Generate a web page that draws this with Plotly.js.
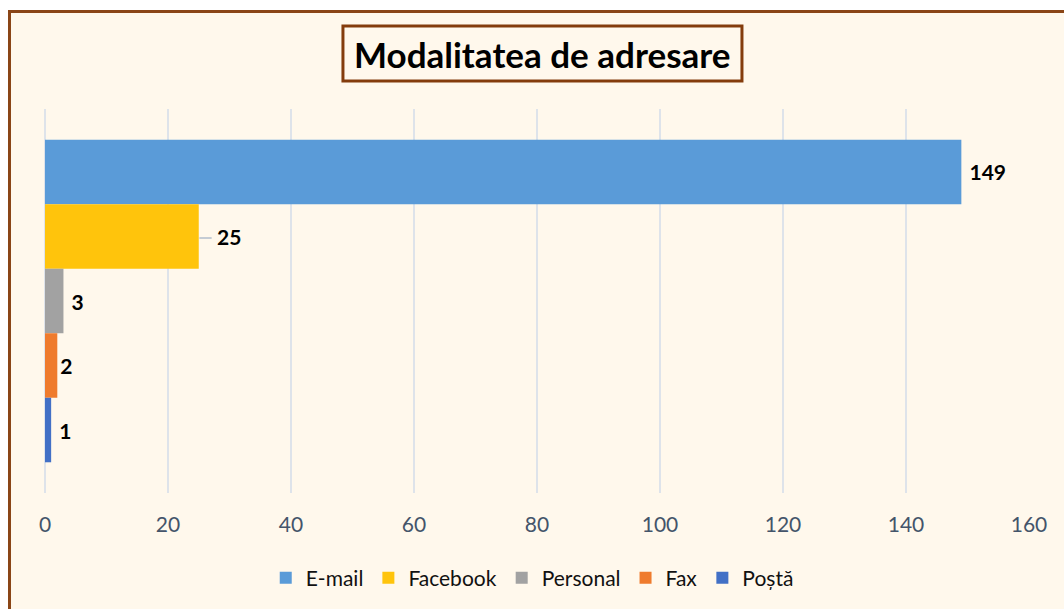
<!DOCTYPE html>
<html>
<head>
<meta charset="utf-8">
<script src="https://cdn.plot.ly/plotly-3.0.1.min.js"></script>
<style>
  html, body { margin:0; padding:0; background:#ffffff; overflow:hidden; }
  #frame { position:absolute; left:8px; top:10px; width:1060px; height:605px;
           border-left:3px solid #8A4516; border-top:3px solid #8A4516; background:#FFF8EC; }
  #chart { position:absolute; left:0; top:0; width:1053px; height:596px; }
</style>
</head>
<body>
<div id="frame"><div id="chart"></div></div>
<script>
const chartTitle = "Modalitatea de adresare";
const seriesNames = ["E-mail", "Facebook", "Personal", "Fax", "Poștă"];
const seriesValues = [149, 25, 3, 2, 1];
const seriesColors = ["#5A9BD8", "#FFC40C", "#A2A2A2", "#EF7B2D", "#4270C6"];
const category = ["Modalitate"];
const xTicks = [0, 20, 40, 60, 80, 100, 120, 140, 160];
// label padding (non-breaking spaces) per series, style only
const labelPad = [1, 3, 1, 0, 1];

const NB = "\u00A0";
const traces = seriesNames.map((name, i) => ({
  type: "bar",
  orientation: "h",
  name: name,
  y: category,
  x: [seriesValues[i]],
  text: [NB.repeat(labelPad[i]) + String(seriesValues[i])],
  textposition: "outside",
  constraintext: "none",
  textfont: { family: "Lato, 'Open Sans', sans-serif", size: 21, color: "#000000", weight: "bold" },
  marker: { color: seriesColors[i], line: { width: 0 } },
  cliponaxis: false,
  hoverinfo: "skip"
}));

const layout = {
  width: 1053, height: 596,
  paper_bgcolor: "#FFF8EC", plot_bgcolor: "#FFF8EC",
  margin: { l: 34, r: 35, t: 96, b: 116 },
  barmode: "group",
  bargap: 0.16,
  bargroupgap: 0,
  showlegend: true,
  font: { family: "Lato, 'Open Sans', sans-serif" },
  xaxis: {
    range: [0, 160], tickvals: xTicks, ticktext: xTicks.map(String),
    showgrid: true, gridcolor: "#DEE3EA", gridwidth: 2,
    zeroline: true, zerolinecolor: "#DEE3EA", zerolinewidth: 2,
    showline: false, ticks: "", ticklabelstandoff: 17,
    tickfont: { size: 21, color: "#44546A", family: "Lato, 'Open Sans', sans-serif" },
    fixedrange: true
  },
  yaxis: {
    type: "category", autorange: "reversed", showticklabels: false,
    showgrid: false, zeroline: false, showline: false, ticks: "", fixedrange: true
  },
  legend: {
    orientation: "h", xref: "container", yref: "container",
    x: 0.495, xanchor: "center", y: 0.052, yanchor: "middle",
    font: { size: 21, color: "#111111", family: "Lato, 'Open Sans', sans-serif" },
    bgcolor: "rgba(0,0,0,0)", traceorder: "normal"
  },
  shapes: [
    {
      type: "rect", xref: "paper", yref: "paper", layer: "above",
      x0: 0.3028, x1: 0.7083, y0: 1.0729, y1: 1.2161,
      line: { color: "#843C0C", width: 3 }, fillcolor: "#FFF8EC"
    },
    {
      type: "line", xref: "x", yref: "paper", layer: "above",
      x0: seriesValues[1] + 0.1, x1: seriesValues[1] + 2.1, y0: 0.664, y1: 0.664,
      line: { color: "#C5CCD4", width: 2 }
    }
  ],
  annotations: [{
    xref: "paper", yref: "paper", x: 0.5056, y: 1.1445,
    xanchor: "center", yanchor: "middle", showarrow: false,
    text: "<b>" + chartTitle + "</b>",
    font: { size: 35, color: "#000000", family: "Lato, 'Open Sans', sans-serif" }
  }]
};

Plotly.newPlot("chart", traces, layout, { displayModeBar: false, staticPlot: true });
</script>
</body>
</html>
